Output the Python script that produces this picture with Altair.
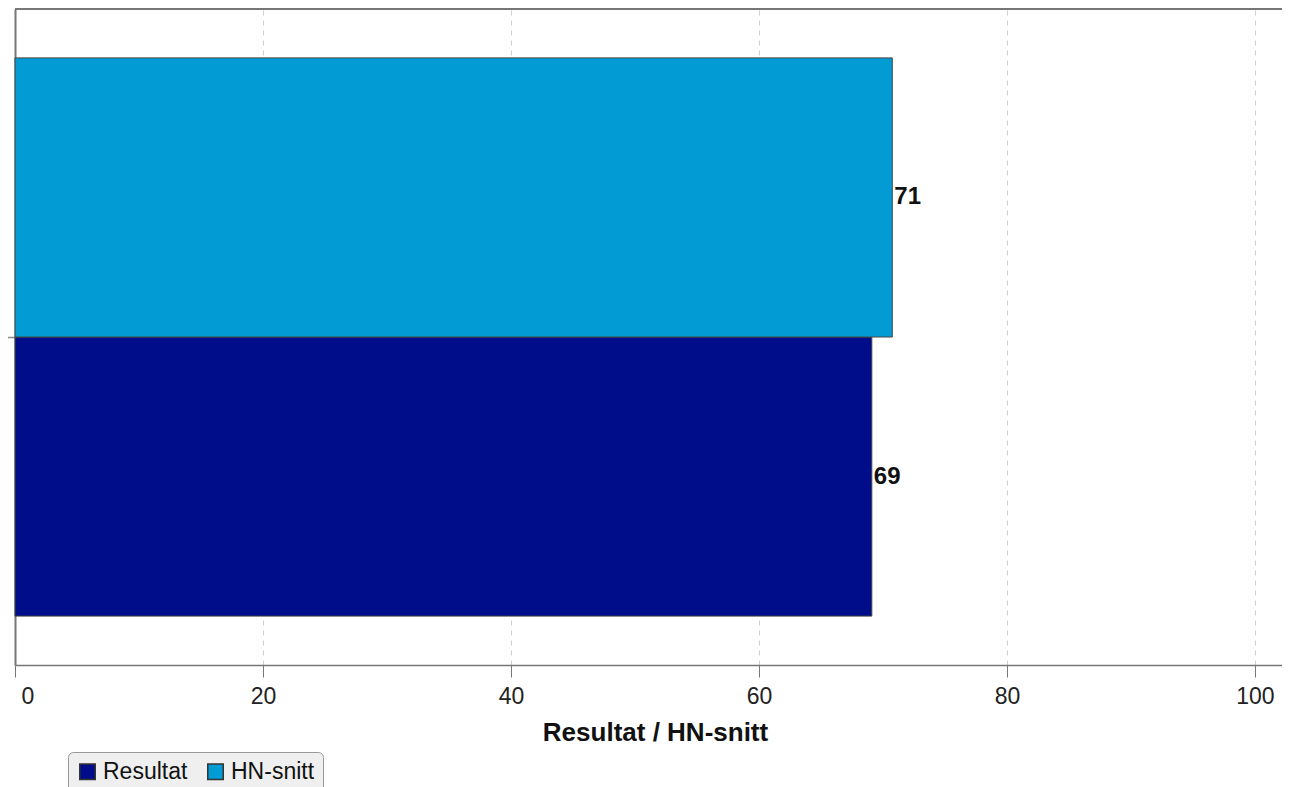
import altair as alt
import pandas as pd

series = ["Resultat", "HN-snitt"]
values = [69.1, 70.75]
value_labels = ["69", "71"]
colors = ["#000d8a", "#039bd3"]
category = ["", ""]
x_ticks = [0, 20, 40, 60, 80, 100]

df = pd.DataFrame({"cat": category, "series": series, "value": values, "label": value_labels})

FONT = "Arial"
W, H = 1267, 656

y_enc = alt.Y(
    "cat:N",
    axis=alt.Axis(labels=False, title=None, ticks=True, tickSize=13, tickColor="#888",
                  tickWidth=1.5, domain=True, domainColor="#777", domainWidth=2, grid=False),
    scale=alt.Scale(paddingInner=0, paddingOuter=0.0876),
)
x_enc = alt.X(
    "value:Q",
    scale=alt.Scale(domain=[0, 102.18], nice=False, zero=True),
    axis=alt.Axis(
        values=x_ticks, title="Resultat / HN-snitt", titleFontSize=26, titleFontWeight="bold",
        titleColor="#111", titleFont=FONT, titlePadding=11, titleX=640, titleAlign="center",
        labelFontSize=23, labelColor="#222", labelFont=FONT, labelPadding=8,
        labelFlush=True, labelFlushOffset=-6,
        tickSize=12, tickColor="#777", tickWidth=1, domainColor="#777", domainWidth=1.5,
        grid=True, gridDash=[5, 5], gridColor="#cfcfcf", gridWidth=1,
    ),
)
yoff = alt.YOffset("series:N", sort=["HN-snitt", "Resultat"])

bars = alt.Chart(df).mark_bar(stroke="#444", strokeWidth=1).encode(
    y=y_enc,
    yOffset=yoff,
    x=x_enc,
    color=alt.Color(
        "series:N",
        scale=alt.Scale(domain=series, range=colors),
        legend=alt.Legend(
            title=None, orient="none", legendX=53, legendY=743, direction="horizontal",
            fillColor="#efefef", strokeColor="#999", cornerRadius=5, padding=8,
            symbolType="square", symbolSize=240, symbolStrokeColor="#333",
            symbolStrokeWidth=1.5, labelFontSize=23, labelFont=FONT, labelColor="#111",
            columnPadding=16, symbolOpacity=1,
        ),
    ),
)

labels = alt.Chart(df).mark_text(
    align="left", baseline="middle", dx=2, fontSize=24, fontWeight="bold", font=FONT, color="#111"
).encode(
    y=alt.Y("cat:N"),
    yOffset=yoff,
    x=alt.X("value:Q"),
    text=alt.Text("label:N"),
)

top_line = alt.Chart(df).mark_rule(color="#777", strokeWidth=2).encode(
    x=alt.value(0), x2=alt.value(W), y=alt.value(0)
)

chart = alt.layer(bars, labels, top_line).properties(
    width=W, height=H,
    autosize=alt.AutoSizeParams(type="none"),
    padding={"left": 7, "top": 1, "right": 0, "bottom": 122},
).configure_view(stroke=None).configure(font=FONT)

chart.save("out.html", embed_options={"renderer": "svg", "actions": False})
